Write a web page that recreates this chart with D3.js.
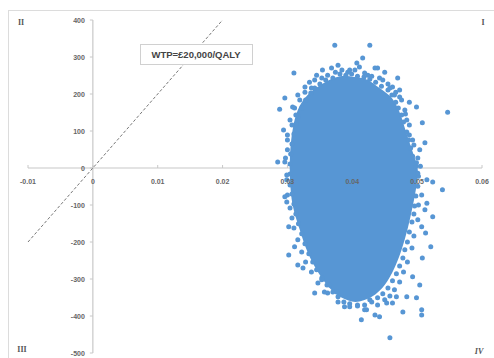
<!DOCTYPE html>
<html><head><meta charset="utf-8">
<script src="https://cdn.jsdelivr.net/npm/d3@7"></script>
<style>body{margin:0;background:#fff}svg{display:block}</style>
</head><body>
<script>
// ---- data ----
const xTicks = [-0.01, 0, 0.01, 0.02, 0.03, 0.04, 0.05, 0.06];
const xTickLabels = ["-0.01", "0", "0.01", "0.02", "0.03", "0.04", "0.05", "0.06"];
const yTicks = [400, 300, 200, 100, 0, -100, -200, -300, -400, -500];
const yTickLabels = ["400", "300", "200", "100", "0", "-100", "-200", "-300", "-400", "-500"];
const wtpLine = [[-0.01, -200], [0.02, 400]];
const wtpLabel = "WTP=£20,000/QALY";
const quadrantLabels = ["I", "II", "III", "IV"];
// dense core of the simulated cloud (outline of the solid region, QALY, £)
const coreOutline = [
  [0.0358,232],[0.0381,248],[0.0404,246],[0.0424,238],[0.0442,216],[0.0461,189],[0.0473,151],
  [0.0482,103],[0.0492,49],[0.0501,-5],[0.0498,-59],[0.0492,-113],[0.0485,-167],[0.0476,-221],
  [0.0465,-270],[0.0450,-316],[0.0430,-348],[0.0405,-362],[0.0384,-351],[0.0365,-324],
  [0.0347,-281],[0.0331,-227],[0.0319,-167],[0.0308,-100],[0.0304,-32],[0.0304,35],
  [0.0308,103],[0.0316,157],[0.0331,197]
];
// simulations packed along the edge of the dense core
const edgePoints = [
  [0.0350,227],[0.0359,238],[0.0370,243],[0.0381,254],[0.0390,251],[0.0399,254],[0.0408,248],
  [0.0418,246],[0.0427,240],[0.0436,232],[0.0445,221],[0.0455,211],[0.0461,197],[0.0467,178],
  [0.0471,162],[0.0476,143],[0.0479,124],[0.0484,97],[0.0487,76],[0.0490,54],[0.0493,32],
  [0.0498,5],[0.0502,-22],[0.0501,-49],[0.0498,-76],[0.0496,-103],[0.0495,-124],[0.0492,-146],
  [0.0488,-173],[0.0485,-200],[0.0481,-221],[0.0478,-243],[0.0473,-265],[0.0468,-286],
  [0.0462,-305],[0.0455,-324],[0.0447,-340],[0.0439,-351],[0.0430,-362],[0.0419,-370],
  [0.0408,-373],[0.0396,-367],[0.0387,-362],[0.0378,-348],[0.0370,-335],[0.0361,-316],
  [0.0353,-297],[0.0345,-275],[0.0339,-254],[0.0333,-232],[0.0327,-205],[0.0322,-178],
  [0.0317,-151],[0.0313,-124],[0.0310,-97],[0.0307,-70],[0.0305,-43],[0.0304,-16],[0.0304,11],
  [0.0305,38],[0.0307,65],[0.0310,92],[0.0313,119],[0.0317,140],[0.0322,162],[0.0328,184],
  [0.0336,203],[0.0342,216]
];
// looser simulations just outside the edge
const fringePoints = [
  [0.0337,216],[0.0353,243],[0.0374,259],[0.0404,265],[0.0424,251],[0.0442,243],[0.0455,227],
  [0.0467,205],[0.0476,184],[0.0482,146],[0.0488,89],[0.0495,62],[0.0501,27],[0.0505,5],
  [0.0507,-73],[0.0502,-100],[0.0501,-140],[0.0495,-184],[0.0492,-216],[0.0485,-254],
  [0.0479,-281],[0.0473,-308],[0.0465,-329],[0.0458,-346],[0.0450,-356],[0.0439,-370],
  [0.0419,-383],[0.0388,-375],[0.0378,-362],[0.0362,-338],[0.0347,-311],[0.0337,-281],
  [0.0328,-254],[0.0322,-227],[0.0316,-194],[0.0310,-162],[0.0307,-135],[0.0304,-108],
  [0.0300,-73],[0.0299,-19],[0.0297,27],[0.0300,89],[0.0304,130],[0.0311,162],[0.0316,197],
  [0.0327,205]
];
// individual scattered simulations
const outliers = [
  [0.0373,332],[0.0427,332],[0.0416,297],[0.0310,257],[0.0378,278],[0.0368,270],[0.0354,265],
  [0.0345,251],[0.0334,232],[0.0327,219],[0.0296,189],[0.0288,159],[0.0308,165],[0.0294,103],
  [0.0307,116],[0.0285,16],[0.0296,16],[0.0450,259],[0.0439,270],[0.0435,270],[0.0470,243],
  [0.0473,211],[0.0473,192],[0.0488,178],[0.0499,165],[0.0547,151],[0.0508,122],[0.0484,130],
  [0.0512,68],[0.0504,49],[0.0493,76],[0.0499,14],[0.0501,-14],[0.0462,219],[0.0458,216],
  [0.0411,273],[0.0396,265],[0.0384,265],[0.0407,284],[0.0539,-59],[0.0524,-132],[0.0521,-213],
  [0.0508,-243],[0.0513,-176],[0.0507,-159],[0.0302,-159],[0.0302,-235],[0.0316,-262],
  [0.0324,-270],[0.0342,-338],[0.0357,-335],[0.0396,-375],[0.0408,-370],[0.0414,-410],
  [0.0422,-383],[0.0435,-397],[0.0442,-402],[0.0458,-459],[0.0478,-389],[0.0507,-383],
  [0.0507,-397],[0.0499,-351],[0.0504,-316],[0.0493,-294],[0.0484,-348],[0.0462,-365],
  [0.0468,-348],[0.0453,-365],[0.0427,-356],[0.0376,-335],[0.0365,-316],[0.0353,-302],
  [0.0296,-78],[0.0299,-92],[0.0299,-32],[0.0304,-46],[0.0515,-95],[0.0512,-113],[0.0311,-213],
  [0.0524,-38],[0.0515,-32],[0.0342,238],[0.0362,251],[0.0393,259],[0.0419,257],[0.0430,248],
  [0.0447,238],[0.0465,197],[0.0481,157],[0.0488,116],[0.0319,184],[0.0313,143],[0.0300,76],
  [0.0300,49]
];

// ---- drawing ----
const W = 494, H = 358;
const svg = d3.select("body").append("svg").attr("width", W).attr("height", H);
const x = d3.scaleLinear().domain([-0.01, 0.06]).range([28, 482]);
const y = d3.scaleLinear().domain([-500, 400]).range([353, 20]);
const blue = "#5796d4";

svg.append("rect").attr("x", 8.5).attr("y", 10.5).attr("width", 490).attr("height", 360)
  .attr("fill", "#fff").attr("stroke", "#dcdcdc");

// axes lines
svg.append("line").attr("x1", x(-0.01)).attr("x2", x(0.06)).attr("y1", y(0)).attr("y2", y(0))
  .attr("stroke", "#c8c8c8").attr("stroke-width", 1.2);
svg.append("line").attr("x1", x(0)).attr("x2", x(0)).attr("y1", y(400)).attr("y2", y(-500))
  .attr("stroke", "#c8c8c8").attr("stroke-width", 1.2);
svg.selectAll(".xt").data(xTicks).join("line").attr("x1", d => x(d)).attr("x2", d => x(d))
  .attr("y1", y(0) - 3).attr("y2", y(0)).attr("stroke", "#c8c8c8");
svg.selectAll(".yt").data(yTicks).join("line").attr("y1", d => y(d)).attr("y2", d => y(d))
  .attr("x1", x(0) - 3).attr("x2", x(0)).attr("stroke", "#c8c8c8");

// WTP line
const line = d3.line().x(d => x(d[0])).y(d => y(d[1]));
svg.append("path").attr("d", line(wtpLine)).attr("fill", "none")
  .attr("stroke", "#777").attr("stroke-width", 1).attr("stroke-dasharray", "3,2");

// scatter
svg.append("path").attr("d", d3.line().curve(d3.curveCatmullRomClosed)
  .x(d => x(d[0])).y(d => y(d[1]))(coreOutline)).attr("fill", blue);
const allPts = edgePoints.concat(fringePoints, outliers);
svg.selectAll(".pt").data(allPts).join("circle")
  .attr("cx", d => x(d[0])).attr("cy", d => y(d[1])).attr("r", 2.5).attr("fill", blue);

// tick labels
const tf = "'Liberation Sans', Arial, sans-serif";
svg.selectAll(".xl").data(xTicks).join("text").attr("x", d => x(d)).attr("y", y(0) + 16)
  .attr("text-anchor", "middle").attr("font-family", tf).attr("font-size", 7)
  .attr("font-weight", "bold").attr("fill", "#666").text((d, i) => xTickLabels[i]);
svg.selectAll(".yl").data(yTicks).join("text").attr("x", x(0) - 8).attr("y", d => y(d) + 2.5)
  .attr("text-anchor", "end").attr("font-family", tf).attr("font-size", 7)
  .attr("font-weight", "bold").attr("fill", "#666").text((d, i) => yTickLabels[i]);

// label box
svg.append("rect").attr("x", 140.5).attr("y", 44.5).attr("width", 112).attr("height", 20)
  .attr("fill", "#fff").attr("stroke", "#d0d0d0");
svg.append("text").attr("x", 196).attr("y", 58).attr("text-anchor", "middle")
  .attr("font-family", tf).attr("font-size", 9.5).attr("font-weight", "bold").attr("fill", "#444")
  .text(wtpLabel);

// quadrant labels
const qPos = [[483, 25], [21, 25], [22, 352], [479, 354]];
svg.selectAll(".ql").data(quadrantLabels).join("text")
  .attr("x", (d, i) => qPos[i][0]).attr("y", (d, i) => qPos[i][1]).attr("text-anchor", "middle")
  .attr("font-family", "'Liberation Serif', serif").attr("font-size", 8).attr("font-weight", "bold")
  .attr("font-style", (d, i) => i === 3 ? "italic" : "normal").attr("fill", "#555").text(d => d);
</script>
</body></html>
